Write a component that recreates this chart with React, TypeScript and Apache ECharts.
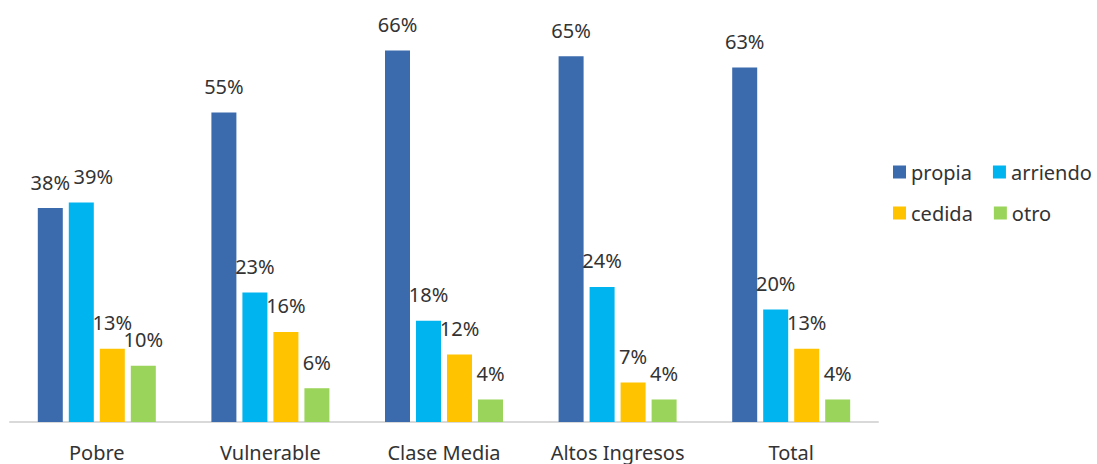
import React, { useEffect, useRef } from "react";
import * as echarts from "echarts";

const categories = ["Pobre", "Vulnerable", "Clase Media", "Altos Ingresos", "Total"];
const propia = [38, 55, 66, 65, 63];
const arriendo = [39, 23, 18, 24, 20];
const cedida = [13, 16, 12, 7, 13];
const otro = [10, 6, 4, 4, 4];

const seriesDefs = [
  { name: "propia", data: propia, color: "#3B6BAD" },
  { name: "arriendo", data: arriendo, color: "#00B4EF" },
  { name: "cedida", data: cedida, color: "#FFC300" },
  { name: "otro", data: otro, color: "#9BD45A" },
];

const FONT = "'Noto Sans', sans-serif";
const TEXT = "#333333";

export default function App() {
  const ref = useRef<HTMLDivElement>(null);
  useEffect(() => {
    if (!ref.current) return;
    const chart = echarts.init(ref.current, undefined, { renderer: "svg" });
    chart.setOption({
      animation: false,
      textStyle: { fontFamily: FONT },
      grid: { left: 10, right: 219, top: 28, bottom: 42, containLabel: false },
      legend: {
        left: 888,
        top: 157,
        width: 209,
        itemWidth: 13,
        itemHeight: 13,
        itemGap: 21,
        icon: "rect",
        textStyle: { fontFamily: FONT, fontSize: 20, color: TEXT },
        data: seriesDefs.map((s) => s.name),
      },
      xAxis: {
        type: "category",
        data: categories,
        axisLine: { show: true, lineStyle: { color: "#D9D9D9", width: 2 } },
        axisTick: { show: false },
        axisLabel: {
          interval: 0,
          fontFamily: FONT,
          fontSize: 20,
          lineHeight: 20,
          color: TEXT,
          margin: 20,
        },
      },
      yAxis: {
        type: "value",
        min: 0,
        max: 70,
        show: false,
        splitLine: { show: false },
      },
      series: seriesDefs.map((s, si) => ({
        name: s.name,
        type: "bar",
        data: s.data.map((v, i) =>
          si === 1 && i === 0 ? { value: v, label: { offset: [12, 0] } } : v
        ),
        barWidth: 25,
        barGap: "24%",
        itemStyle: { color: s.color },
        label: {
          show: true,
          position: "top",
          distance: 16,
          formatter: "{c}%",
          fontFamily: FONT,
          fontSize: 20,
          color: TEXT,
        },
      })),
    });
    return () => chart.dispose();
  }, []);
  return <div ref={ref} style={{ width: 1097, height: 464, position: "absolute", left: 0, top: 0, background: "#fff" }} />;
}
